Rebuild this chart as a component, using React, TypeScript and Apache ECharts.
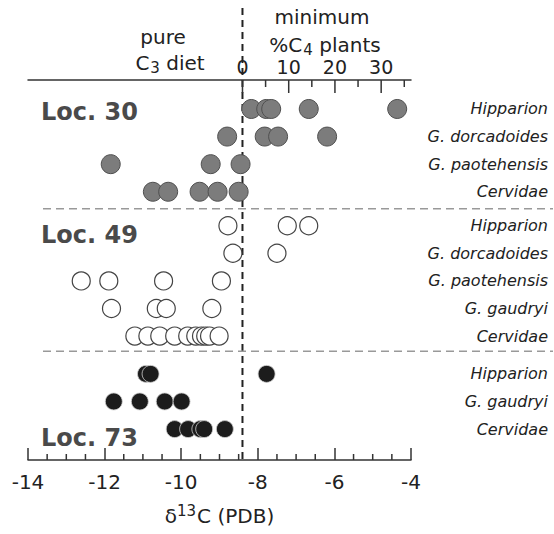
import React, { useEffect, useRef } from "react";
import * as echarts from "echarts";

// δ13C axis
const X_MIN = -14;
const X_MAX = -4;
const X_TICKS_INTERVAL = 2;
const X_MINOR_STEP = 0.5;
// %C4 top axis: 0% at δ = -8.4, 10% per ~1.207 ‰
const PCT_ZERO = -8.4;
const PCT_PER_PERMIL = 10 / 1.207;
const PCT_MAJOR = [0, 10, 20, 30];
const PCT_MINOR = [5, 15, 25, 35];

// row positions (top = 0)
const Y_MAX = 13.77;
const rows = [1.05, 2.05, 3.05, 4.05, 5.28, 6.28, 7.28, 8.28, 9.28, 10.65, 11.65, 12.65];
const rowNames = [
  "Hipparion", "G. dorcadoides", "G. paotehensis", "Cervidae",
  "Hipparion", "G. dorcadoides", "G. paotehensis", "G. gaudryi", "Cervidae",
  "Hipparion", "G. gaudryi", "Cervidae",
];
const separators = [4.67, 9.83];
const locNames = ["Loc. 30", "Loc. 49", "Loc. 73"];

// Loc. 30
const loc30Hipparion = [-8.17, -7.78, -7.65, -6.67, -4.36];
const loc30Dorcadoides = [-8.8, -7.82, -7.47, -6.19];
const loc30Paotehensis = [-11.84, -9.23, -8.45];
const loc30Cervidae = [-10.74, -10.34, -9.52, -9.05, -8.5];
// Loc. 49
const loc49Hipparion = [-8.78, -7.23, -6.67];
const loc49Dorcadoides = [-8.65, -7.5];
const loc49Paotehensis = [-12.61, -11.89, -10.46, -8.95];
const loc49Gaudryi = [-11.82, -10.65, -10.39, -9.2];
const loc49Cervidae = [-11.21, -10.87, -10.56, -10.17, -9.83, -9.62, -9.47, -9.36, -9.26, -9.01];
// Loc. 73
const loc73Hipparion = [-10.92, -10.8, -7.77];
const loc73Gaudryi = [-11.76, -11.08, -10.43, -9.99];
const loc73Cervidae = [-10.17, -9.82, -9.5, -9.4, -8.86];

const FONT = "DejaVu Sans";

const toPts = (vals: number[], rowIdx: number) => vals.map((v) => [v, rows[rowIdx]]);

export default function App() {
  const ref = useRef<HTMLDivElement>(null);
  useEffect(() => {
    if (!ref.current) return;
    const chart = echarts.init(ref.current, null, { renderer: "svg" });
    const pctMin = (X_MIN - PCT_ZERO) * PCT_PER_PERMIL;
    const pctMax = (X_MAX - PCT_ZERO) * PCT_PER_PERMIL;

    const loc30 = [
      ...toPts(loc30Hipparion, 0),
      ...toPts(loc30Dorcadoides, 1),
      ...toPts(loc30Paotehensis, 2),
      ...toPts(loc30Cervidae, 3),
    ];
    const loc49 = [
      ...toPts(loc49Hipparion, 4),
      ...toPts(loc49Dorcadoides, 5),
      ...toPts(loc49Paotehensis, 6),
      ...toPts(loc49Gaudryi, 7),
      ...toPts(loc49Cervidae, 8),
    ];
    const loc73 = [
      ...toPts(loc73Hipparion, 9),
      ...toPts(loc73Gaudryi, 10),
      ...toPts(loc73Cervidae, 11),
    ];

    const option: any = {
      animation: false,
      backgroundColor: "#fff",
      grid: { left: 28, right: 143, top: 80, bottom: 74 },
      xAxis: [
        {
          type: "value",
          position: "bottom",
          min: X_MIN,
          max: X_MAX,
          interval: X_TICKS_INTERVAL,
          axisLine: { show: true, onZero: false, lineStyle: { color: "#333", width: 1.5 } },
          axisTick: { show: true, inside: true, length: 12, lineStyle: { color: "#333", width: 1.5 } },
          minorTick: { show: false },
          splitLine: { show: false },
          axisLabel: { color: "#222", fontSize: 20, fontFamily: FONT, margin: 12 },
          name: "{a|δ}{s|13}{a|C (PDB)}",
          nameLocation: "middle",
          nameGap: 42,
          nameTextStyle: {
            rich: {
              a: { fontSize: 20, fontFamily: FONT, color: "#222", lineHeight: 28 },
              s: { fontSize: 15, fontFamily: FONT, color: "#222", padding: [0, 1, 10, 0] },
            },
          },
        },
        {
          type: "value",
          position: "top",
          min: pctMin,
          max: pctMax,
          axisLine: { show: true, onZero: false, lineStyle: { color: "#333", width: 1.5 } },
          axisTick: { show: false },
          axisLabel: { show: true, customValues: PCT_MAJOR, color: "#222", fontSize: 19, fontFamily: FONT, margin: 4 },
          splitLine: { show: false },
        },
      ],
      yAxis: {
        type: "value",
        position: "right",
        min: 0,
        max: Y_MAX,
        inverse: true,
        axisLine: { show: false, onZero: false },
        axisTick: { show: false },
        splitLine: { show: false },
        axisLabel: {
          customValues: rows,
          align: "right",
          margin: 137,
          fontSize: 16,
          fontStyle: "italic",
          fontFamily: FONT,
          color: "#222",
          formatter: (v: number) => {
            const i = rows.findIndex((r) => Math.abs(r - v) < 1e-6);
            return i >= 0 ? rowNames[i] : "";
          },
        },
      },
      series: [
        {
          type: "scatter",
          name: locNames[0],
          data: loc30,
          symbolSize: 19,
          itemStyle: { color: "#7c7c7c", borderColor: "#505050", borderWidth: 1, opacity: 1 },
          z: 5,
        },
        {
          type: "scatter",
          name: locNames[1],
          data: loc49,
          symbolSize: 18,
          itemStyle: { color: "#fff", borderColor: "#444", borderWidth: 1.2, opacity: 1 },
          z: 5,
        },
        {
          type: "scatter",
          name: locNames[2],
          data: loc73,
          symbolSize: 17,
          itemStyle: { color: "#1c1c1c", borderColor: "#cfcfcf", borderWidth: 0.8, opacity: 1 },
          z: 5,
        },
      ],
    };
    chart.setOption(option);

    const px = (d: number) => chart.convertToPixel({ xAxisIndex: 0, yAxisIndex: 0 } as any, [d, 0]) as number[];
    const py = (v: number) => (chart.convertToPixel({ xAxisIndex: 0, yAxisIndex: 0 } as any, [X_MIN, v]) as number[])[1];
    const xd = px(PCT_ZERO)[0];
    const yBottom = py(Y_MAX);
    const yTop = py(0);
    const sepY = separators.map((s) => py(s));

    const tick = (x: number, y0: number, dir: number, len: number) => ({
      type: "line",
      z: 3,
      shape: { x1: x, y1: y0, x2: x, y2: y0 + dir * len },
      style: { stroke: "#333", lineWidth: 1.5 },
    });
    const topTickX = (v: number) => px(PCT_ZERO + v / PCT_PER_PERMIL)[0];
    const minorBottom: number[] = [];
    for (let d = X_MIN + X_MINOR_STEP; d < X_MAX; d += X_MINOR_STEP) {
      if (Math.abs(d / X_TICKS_INTERVAL - Math.round(d / X_TICKS_INTERVAL)) > 1e-6) minorBottom.push(d);
    }

    const graphic: any[] = [
      {
        type: "line",
        z: 1,
        shape: { x1: xd, y1: 8, x2: xd, y2: yBottom },
        style: { stroke: "#222", lineWidth: 2, lineDash: [7, 5] },
      },
      ...PCT_MAJOR.map((v) => tick(topTickX(v), yTop, 1, 13)),
      ...PCT_MINOR.map((v) => tick(topTickX(v), yTop, 1, 7)),
      ...minorBottom.map((d) => tick(px(d)[0], yBottom, -1, 6)),
      ...sepY.map((y) => ({
        type: "line",
        z: 1,
        shape: { x1: 43, y1: y, x2: 553, y2: y },
        style: { stroke: "#999", lineWidth: 1.5, lineDash: [8, 5] },
      })),
      {
        type: "text",
        x: 163,
        y: 37,
        style: { text: "pure", font: `20px "${FONT}"`, fill: "#222", textAlign: "center", textVerticalAlign: "middle" },
      },
      {
        type: "text",
        x: 170,
        y: 63,
        style: {
          text: "{a|C}{s|3}{a| diet}",
          textAlign: "center",
          textVerticalAlign: "middle",
          rich: {
            a: { fontSize: 20, fontFamily: FONT, fill: "#222", lineHeight: 26 },
            s: { fontSize: 15, fontFamily: FONT, fill: "#222", padding: [10, 0, 0, 1] },
          },
        },
      },
      {
        type: "text",
        x: 322,
        y: 17,
        style: { text: "minimum", font: `20px "${FONT}"`, fill: "#222", textAlign: "center", textVerticalAlign: "middle" },
      },
      {
        type: "text",
        x: 325,
        y: 45,
        style: {
          text: "{a|%C}{s|4}{a| plants}",
          textAlign: "center",
          textVerticalAlign: "middle",
          rich: {
            a: { fontSize: 20, fontFamily: FONT, fill: "#222", lineHeight: 26 },
            s: { fontSize: 15, fontFamily: FONT, fill: "#222", padding: [10, 0, 0, 1] },
          },
        },
      },
      ...[112, 235, 438].map((y, i) => ({
        type: "text",
        x: 41,
        y,
        style: {
          text: locNames[i],
          font: `bold 24px "${FONT}"`,
          fill: "#4a4a4a",
          textAlign: "left",
          textVerticalAlign: "middle",
        },
      })),
    ];
    chart.setOption({ graphic });

    return () => chart.dispose();
  }, []);
  return <div ref={ref} style={{ position: "fixed", left: 0, top: 0, width: 554, height: 534 }} />;
}
